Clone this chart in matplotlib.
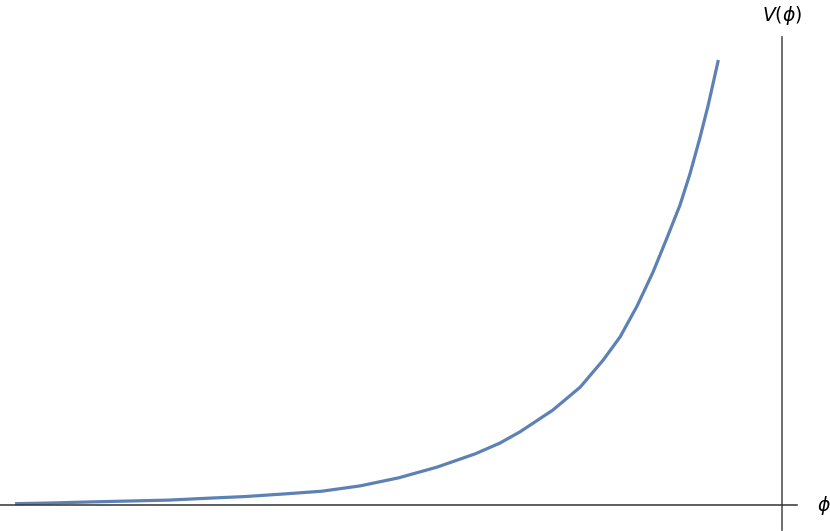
import numpy as np
import matplotlib.pyplot as plt

# values
phi = [-10.0, -9.54, -9.0, -8.5, -8.0, -7.52, -7.0, -6.48, -6.0, -5.5, -5.0,
       -4.5, -4.0, -3.68, -3.42, -2.99, -2.63, -2.33, -2.11, -1.89, -1.68,
       -1.50, -1.33, -1.20, -1.07, -0.96, -0.83]
V = [0.003, 0.0045, 0.007, 0.009, 0.011, 0.015, 0.019, 0.025, 0.031, 0.043,
     0.061, 0.085, 0.115, 0.139, 0.164, 0.213, 0.265, 0.326, 0.378, 0.447,
     0.524, 0.600, 0.674, 0.744, 0.825, 0.900, 1.0]

fig = plt.figure(figsize=(8.3, 5.31), dpi=100)
ax = fig.add_axes([0, 0, 1, 1])

ax.plot(phi, V, color="#5E81B5", lw=2.3, solid_capstyle="butt",
        solid_joinstyle="round")

ax.set_xlim(-10.196, 0.626)
ax.set_ylim(-0.0584, 1.1348)

for side in ["top", "right"]:
    ax.spines[side].set_visible(False)
ax.spines["left"].set_position(("data", 0))
ax.spines["bottom"].set_position(("data", 0))
ax.spines["left"].set_bounds(-0.056, 1.052)
ax.spines["bottom"].set_bounds(-10.196, 0.196)
ax.spines["left"].set_color("#555555")
ax.spines["bottom"].set_color("#333333")
ax.spines["left"].set_linewidth(1.2)
ax.spines["bottom"].set_linewidth(1.1)
ax.set_xticks([])
ax.set_yticks([])
ax.patch.set_visible(False)

ax.text(0, 1.1, r"$V(\phi)$", ha="center", va="center", fontsize=13.5)
ax.text(0.55, 0, r"$\phi$", ha="center", va="center", fontsize=13.5)

plt.savefig("out.png", dpi=100)
